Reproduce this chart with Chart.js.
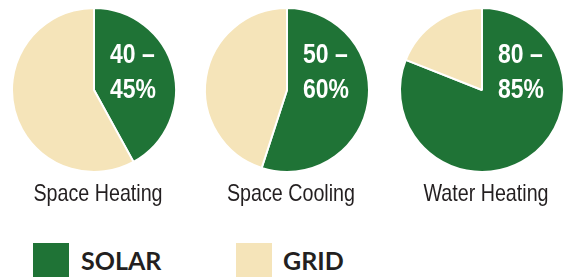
<!DOCTYPE html>
<html>
<head>
<meta charset="utf-8">
<script src="https://cdn.jsdelivr.net/npm/chart.js@4"></script>
<style>
  html, body { margin: 0; padding: 0; background: #fff; }
  body { width: 563px; height: 277px; position: relative; overflow: hidden; }
  .pie { position: absolute; top: 7px; width: 176px; height: 206px; }
  .swatch { position: absolute; top: 243px; width: 36px; height: 34px; }
  .legend-text { position: absolute; top: 245px; height: 34px; line-height: 40px;
    font: bold 25px Lato, sans-serif; color: #231f20; }
</style>
</head>
<body>
<div class="pie" style="left:6px"><canvas id="pie0"></canvas></div>
<div class="pie" style="left:199px"><canvas id="pie1"></canvas></div>
<div class="pie" style="left:394px"><canvas id="pie2"></canvas></div>

<div class="swatch" style="left:33px; background:#1f7336"></div>
<div class="legend-text" id="lg0" style="left:81px"></div>
<div class="swatch" style="left:236px; background:#f5e4b9"></div>
<div class="legend-text" id="lg1" style="left:283px"></div>

<script>
// chart data
const categories = ['Space Heating', 'Space Cooling', 'Water Heating'];
const seriesNames = ['SOLAR', 'GRID'];
const solarShare = [42, 55, 81];
const gridShare = [58, 45, 19];
const rangeLabels = [['40 –', '45%'], ['50 –', '60%'], ['80 –', '85%']];

const solarColor = '#1f7336';
const gridColor = '#f5e4b9';

document.getElementById('lg0').textContent = seriesNames[0];
document.getElementById('lg1').textContent = seriesNames[1];

// no condensed font installed, so squeeze Liberation Sans sideways
function narrowText(ctx, text, x, y, font, align) {
    ctx.save();
    ctx.font = font;
    ctx.textAlign = align;
    ctx.textBaseline = 'alphabetic';
    ctx.translate(x, y);
    ctx.scale(0.82, 1);
    ctx.fillText(text, 0, 0);
    ctx.restore();
}

// white range label inside the solar slice + category name under the pie
const pieTextPlugin = {
    id: 'pieText',
    afterDatasetsDraw(chart, args, opts) {
        const arc = chart.getDatasetMeta(0).data[0];
        const ctx = chart.ctx;
        ctx.fillStyle = '#fff';
        const labelFont = 'bold 28px "Liberation Sans", Arial, sans-serif';
        narrowText(ctx, opts.lines[0], arc.x + 16, arc.y - 27, labelFont, 'left');
        narrowText(ctx, opts.lines[1], arc.x + 16, arc.y + 8, labelFont, 'left');
        ctx.fillStyle = '#231f20';
        narrowText(ctx, opts.category, arc.x + 4, arc.y + 111,
            '24px "Liberation Sans", Arial, sans-serif', 'center');
    }
};

categories.forEach((cat, i) => {
    new Chart(document.getElementById('pie' + i).getContext('2d'), {
        type: 'pie',
        data: {
            labels: seriesNames,
            datasets: [{
                data: [solarShare[i], gridShare[i]],
                backgroundColor: [solarColor, gridColor],
                borderColor: '#fff',
                borderWidth: 2
            }]
        },
        options: {
            responsive: true,
            maintainAspectRatio: false,
            animation: false,
            events: [],
            layout: { padding: { bottom: 40 } },
            plugins: {
                legend: { display: false },
                tooltip: { enabled: false },
                title: { display: false },
                pieText: { lines: rangeLabels[i], category: cat }
            }
        },
        plugins: [pieTextPlugin]
    });
});
</script>
</body>
</html>
